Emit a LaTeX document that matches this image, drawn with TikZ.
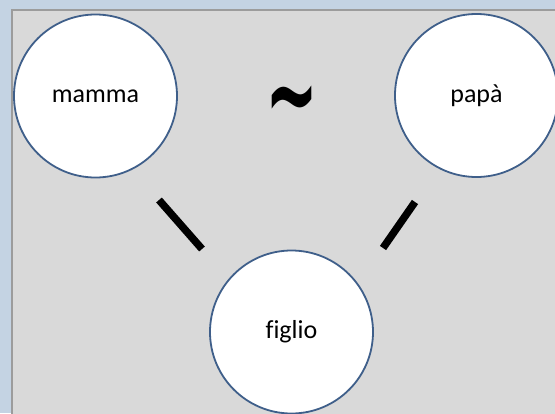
\documentclass[tikz,border=0pt]{standalone}
\usepackage{fontspec}
\setmainfont[Ligatures=NoCommon]{Carlito}
\newfontfamily\symfont{DejaVu Sans}
\definecolor{frameblue}{HTML}{C4D3E3}
\definecolor{panelgray}{HTML}{D9D9D9}
\definecolor{paneledge}{HTML}{9C9C9C}
\definecolor{circleedge}{HTML}{3F5F8A}
\begin{document}
\begin{tikzpicture}[x=1pt,y=-1pt,
  person/.style={circle,draw=circleedge,line width=1.8pt,fill=white,minimum size=163pt,inner sep=0pt,font=\fontsize{26}{30}\selectfont},
  bar/.style={line width=7.5pt,black}]
\useasboundingbox (0,0) rectangle (555,413);
\fill[frameblue] (0,0) rectangle (555,413);
\fill[panelgray] (12,10) rectangle (560,420);
\draw[paneledge,line width=1.2pt] (12,420) -- (12,10) -- (560,10);
\node[person] (mamma) at (95.5,96) {mamma};
\node[person] (papa) at (476.5,95.5) {papà};
\node[person] (figlio) at (291.5,332) {figlio};
\node[font=\symfont\bfseries\fontsize{62}{62}\selectfont,inner sep=0pt,anchor=base] (tilde) at (291.5,133) {\scalebox{1.02}[1.85]{\char"007E}};
\coordinate (l1) at (159,200);
\coordinate (l2) at (202,249);
\coordinate (r1) at (415,202);
\coordinate (r2) at (383,248);
\draw[bar] (l1) -- (l2);
\draw[bar] (r1) -- (r2);
\end{tikzpicture}
\end{document}
